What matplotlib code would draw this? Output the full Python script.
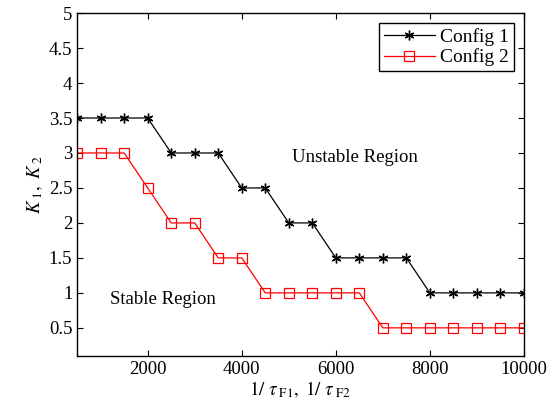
import matplotlib
matplotlib.use('Agg')
import matplotlib.pyplot as plt

# data
inv_tau = [500, 1000, 1500, 2000, 2500, 3000, 3500, 4000, 4500, 5000,
           5500, 6000, 6500, 7000, 7500, 8000, 8500, 9000, 9500, 10000]
k_config1 = [3.5, 3.5, 3.5, 3.5, 3, 3, 3, 2.5, 2.5, 2, 2,
             1.5, 1.5, 1.5, 1.5, 1, 1, 1, 1, 1]
k_config2 = [3, 3, 3, 2.5, 2, 2, 1.5, 1.5, 1, 1, 1,
             1, 1, 0.5, 0.5, 0.5, 0.5, 0.5, 0.5, 0.5]
series_labels = ['Config 1', 'Config 2']

plt.rcParams['font.family'] = ['Liberation Serif', 'DejaVu Serif']
plt.rcParams['mathtext.fontset'] = 'stix'
plt.rcParams['font.size'] = 13.5

fig = plt.figure(figsize=(5.55, 4.09), dpi=100)
ax = fig.add_axes([0.139, 0.130, 0.805, 0.838])

ax.plot(inv_tau, k_config1, color='black', marker=(6, 2, 0), markersize=7,
        markeredgewidth=1.0, linewidth=0.9, label=series_labels[0])
ax.plot(inv_tau, k_config2, color='red', marker='s', markersize=6.5,
        markerfacecolor='none', markeredgewidth=0.9, linewidth=0.9,
        label=series_labels[1])

ax.set_xlim(500, 10000)
ax.set_ylim(0.1, 5)
ax.set_xticks([2000, 4000, 6000, 8000, 10000])
ax.set_yticks([0.5, 1, 1.5, 2, 2.5, 3, 3.5, 4, 4.5, 5])
ax.set_yticklabels(['0.5', '1', '1.5', '2', '2.5', '3', '3.5', '4', '4.5', '5'])
ax.tick_params(direction='in', top=True, right=True, length=4, labelsize=13.5)
for sp in ax.spines.values():
    sp.set_linewidth(1.0)

ax.set_xlabel(r'$1/\ \tau_{\ \mathrm{F1}},\ 1/\ \tau_{\ \mathrm{F2}}$', fontsize=13.5, labelpad=1)
ax.set_ylabel(r'$K_{\ 1},\ K_{\ 2}$', fontsize=13.5, labelpad=3)

ax.text(6400, 2.93, 'Unstable Region', ha='center', va='center', fontsize=13.5)
ax.text(2330, 0.91, 'Stable Region', ha='center', va='center', fontsize=13.5)

leg = ax.legend(loc='upper right', fancybox=False, edgecolor='black',
                framealpha=1, fontsize=14, borderpad=0.25, handlelength=2.6,
                handletextpad=0.3, labelspacing=0.15, borderaxespad=0.5)
leg.get_frame().set_linewidth(1.0)

fig.savefig('out.png', dpi=100)
